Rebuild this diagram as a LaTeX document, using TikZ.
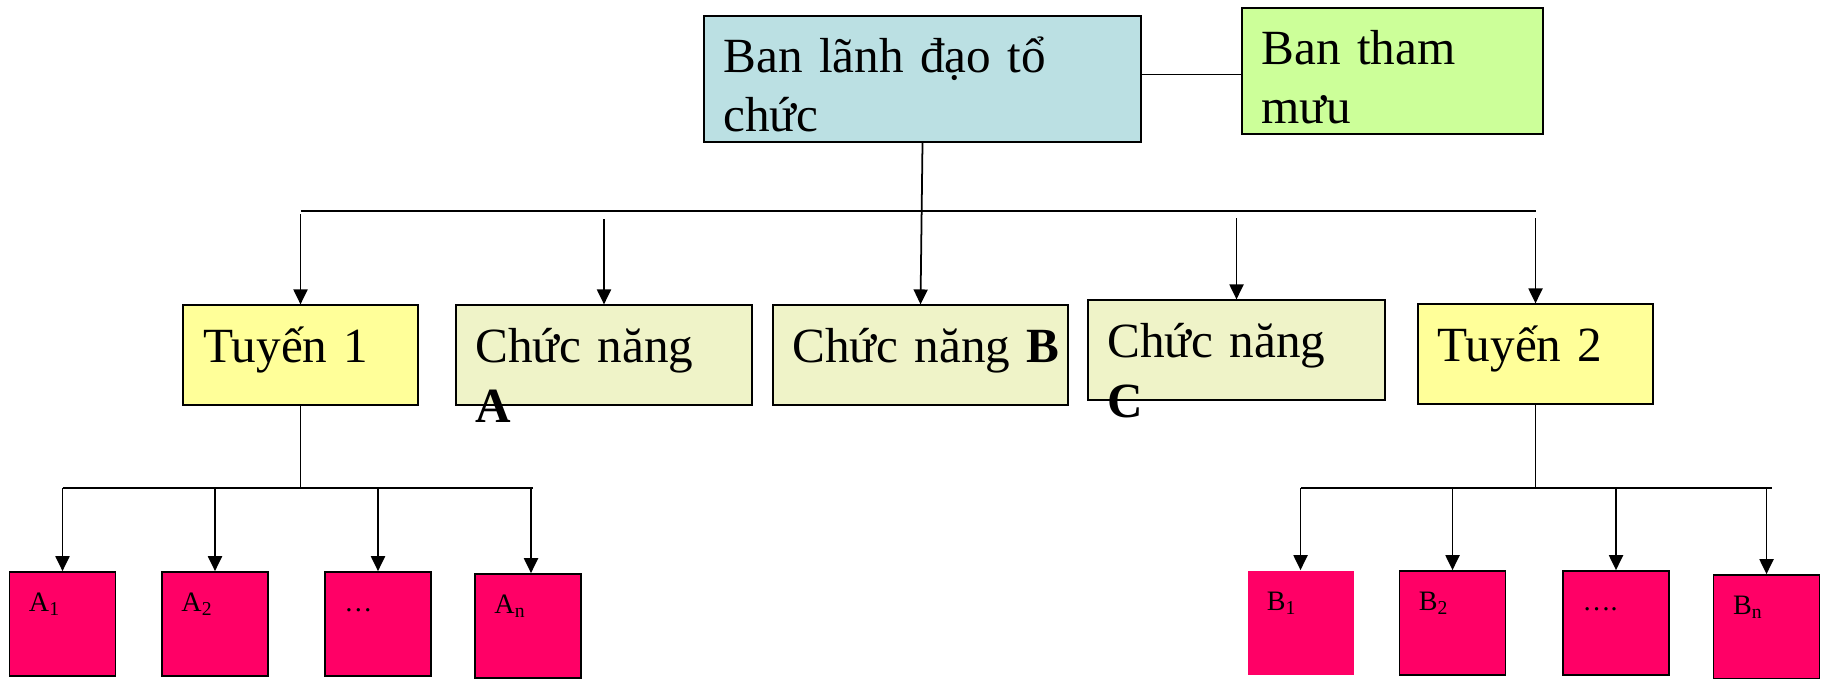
\documentclass[tikz,border=0pt]{standalone}
\usepackage{fontspec}
\setmainfont{Liberation Serif}
\usetikzlibrary{arrows.meta, positioning}

\definecolor{leadblue}{HTML}{BBE0E3}
\definecolor{staffgreen}{HTML}{CCFF99}
\definecolor{lineyellow}{HTML}{FFFF99}
\definecolor{funcbeige}{HTML}{EFF3C8}
\definecolor{unitpink}{HTML}{FF0066}

\tikzset{
  box/.style={draw=black, line width=1pt, inner sep=0pt},
  bigbox/.style={box, minimum height=2.52cm},
  midbox/.style={box, minimum height=1.99cm},
  unitbox/.style={box, fill=unitpink, minimum width=2.12cm, minimum height=2.08cm},
  bigtext/.style={anchor=base west, inner sep=0pt, text width=9cm, align=left,
    font=\fontsize{28}{34}\selectfont},
  smalltext/.style={anchor=base west, inner sep=0pt, font=\fontsize{16}{19}\selectfont},
  arr/.style={-{Triangle[length=8.5pt, width=8pt]}, line width=1pt},
  link/.style={line width=1pt},
}

\begin{document}
\begin{tikzpicture}[x=0.02cm, y=-0.02cm]

% sheet of 1825 x 679 units, y grows downwards
\useasboundingbox (0,0) rectangle (1825,679);

% top level: leadership and staff
\node[bigbox, fill=leadblue, minimum width=8.74cm] (lead) at (922.5,79) {};
\node[bigbox, fill=staffgreen, minimum width=6.02cm] (staff) at (1392.5,71) {};
\node[bigtext] at ([xshift=0.4cm, yshift=-1.14cm]lead.north west) {Ban lãnh đạo tổ\\chức};
\node[bigtext] at ([xshift=0.4cm, yshift=-1.14cm]staff.north west) {Ban tham\\mưu};
\draw[link] (lead.east |- 0,74.5) -- (staff.west |- 0,74.5);

% second level: line and function units
\node[midbox, fill=lineyellow, minimum width=4.70cm] (t1) at (300.5,355) {};
\node[midbox, fill=funcbeige, minimum width=5.92cm] (ca) at (604,355) {};
\node[midbox, fill=funcbeige, minimum width=5.90cm] (cb) at (920.5,355) {};
\node[midbox, fill=funcbeige, minimum width=5.94cm] (cc) at (1236.5,350) {};
\node[midbox, fill=lineyellow, minimum width=4.70cm] (t2) at (1535.5,354) {};

\node[bigtext] at ([xshift=0.42cm, yshift=-1.16cm]t1.north west) {Tuyến 1};
\node[bigtext] at ([xshift=0.4cm, yshift=-1.16cm]ca.north west) {Chức năng\\\textbf{A}};
\node[bigtext] at ([xshift=0.4cm, yshift=-1.16cm]cb.north west) {Chức năng \textbf{B}};
\node[bigtext] at ([xshift=0.4cm, yshift=-1.16cm]cc.north west) {Chức năng\\\textbf{C}};
\node[bigtext] at ([xshift=0.4cm, yshift=-1.16cm]t2.north west) {Tuyến 2};

% distribution bus below the leadership
\draw[link] (t1.north |- 0,211) -- (t2.north |- 0,211);
\draw[arr] (lead.south) -- (cb.north);
\draw[arr] (t1.north |- 0,214) -- (t1.north);
\draw[arr] (ca.north |- 0,219) -- (ca.north);
\draw[arr] (cc.north |- 0,218) -- (cc.north);
\draw[arr] (t2.north |- 0,218) -- (t2.north);

% third level under Tuyen 1
\node[unitbox] (a1) at (62.5,624) {};
\node[unitbox] (a2) at (215,624) {};
\node[unitbox] (a3) at (378,624) {};
\node[unitbox] (an) at (528,626) {};
\node[smalltext] at ([xshift=0.4cm, yshift=-0.8cm]a1.north west) {A\textsubscript{1}};
\node[smalltext] at ([xshift=0.4cm, yshift=-0.8cm]a2.north west) {A\textsubscript{2}};
\node[smalltext] at ([xshift=0.4cm, yshift=-0.8cm]a3.north west) {…};
\node[smalltext] at ([xshift=0.4cm, yshift=-0.8cm]an.north west) {A\textsubscript{n}};

\draw[link] (t1.south) -- (t1.south |- 0,488);
\draw[link] (a1.north |- 0,488) -- ([xshift=0.1cm]an.north |- 0,488);
\foreach \u in {a1,a2,a3} \draw[arr] (\u.north |- 0,488) -- (\u.north);
\draw[arr] ([xshift=0.06cm]an.north |- 0,488) -- ([xshift=0.06cm]an.north);

% third level under Tuyen 2
\node[unitbox, draw=none] (b1) at (1300.5,623) {};
\node[unitbox] (b2) at (1452.5,623) {};
\node[unitbox] (b3) at (1616,623) {};
\node[unitbox] (bn) at (1766.5,627) {};
\node[smalltext] at ([xshift=0.4cm, yshift=-0.8cm]b1.north west) {B\textsubscript{1}};
\node[smalltext] at ([xshift=0.4cm, yshift=-0.8cm]b2.north west) {B\textsubscript{2}};
\node[smalltext] at ([xshift=0.4cm, yshift=-0.8cm]b3.north west) {….};
\node[smalltext] at ([xshift=0.4cm, yshift=-0.8cm]bn.north west) {B\textsubscript{n}};

\draw[link] (t2.south) -- (t2.south |- 0,488);
\draw[link] (b1.north |- 0,488) -- ([xshift=0.1cm]bn.north |- 0,488);
\foreach \u in {b1,b2,b3,bn} \draw[arr] (\u.north |- 0,488) -- (\u.north);

\end{tikzpicture}
\end{document}
